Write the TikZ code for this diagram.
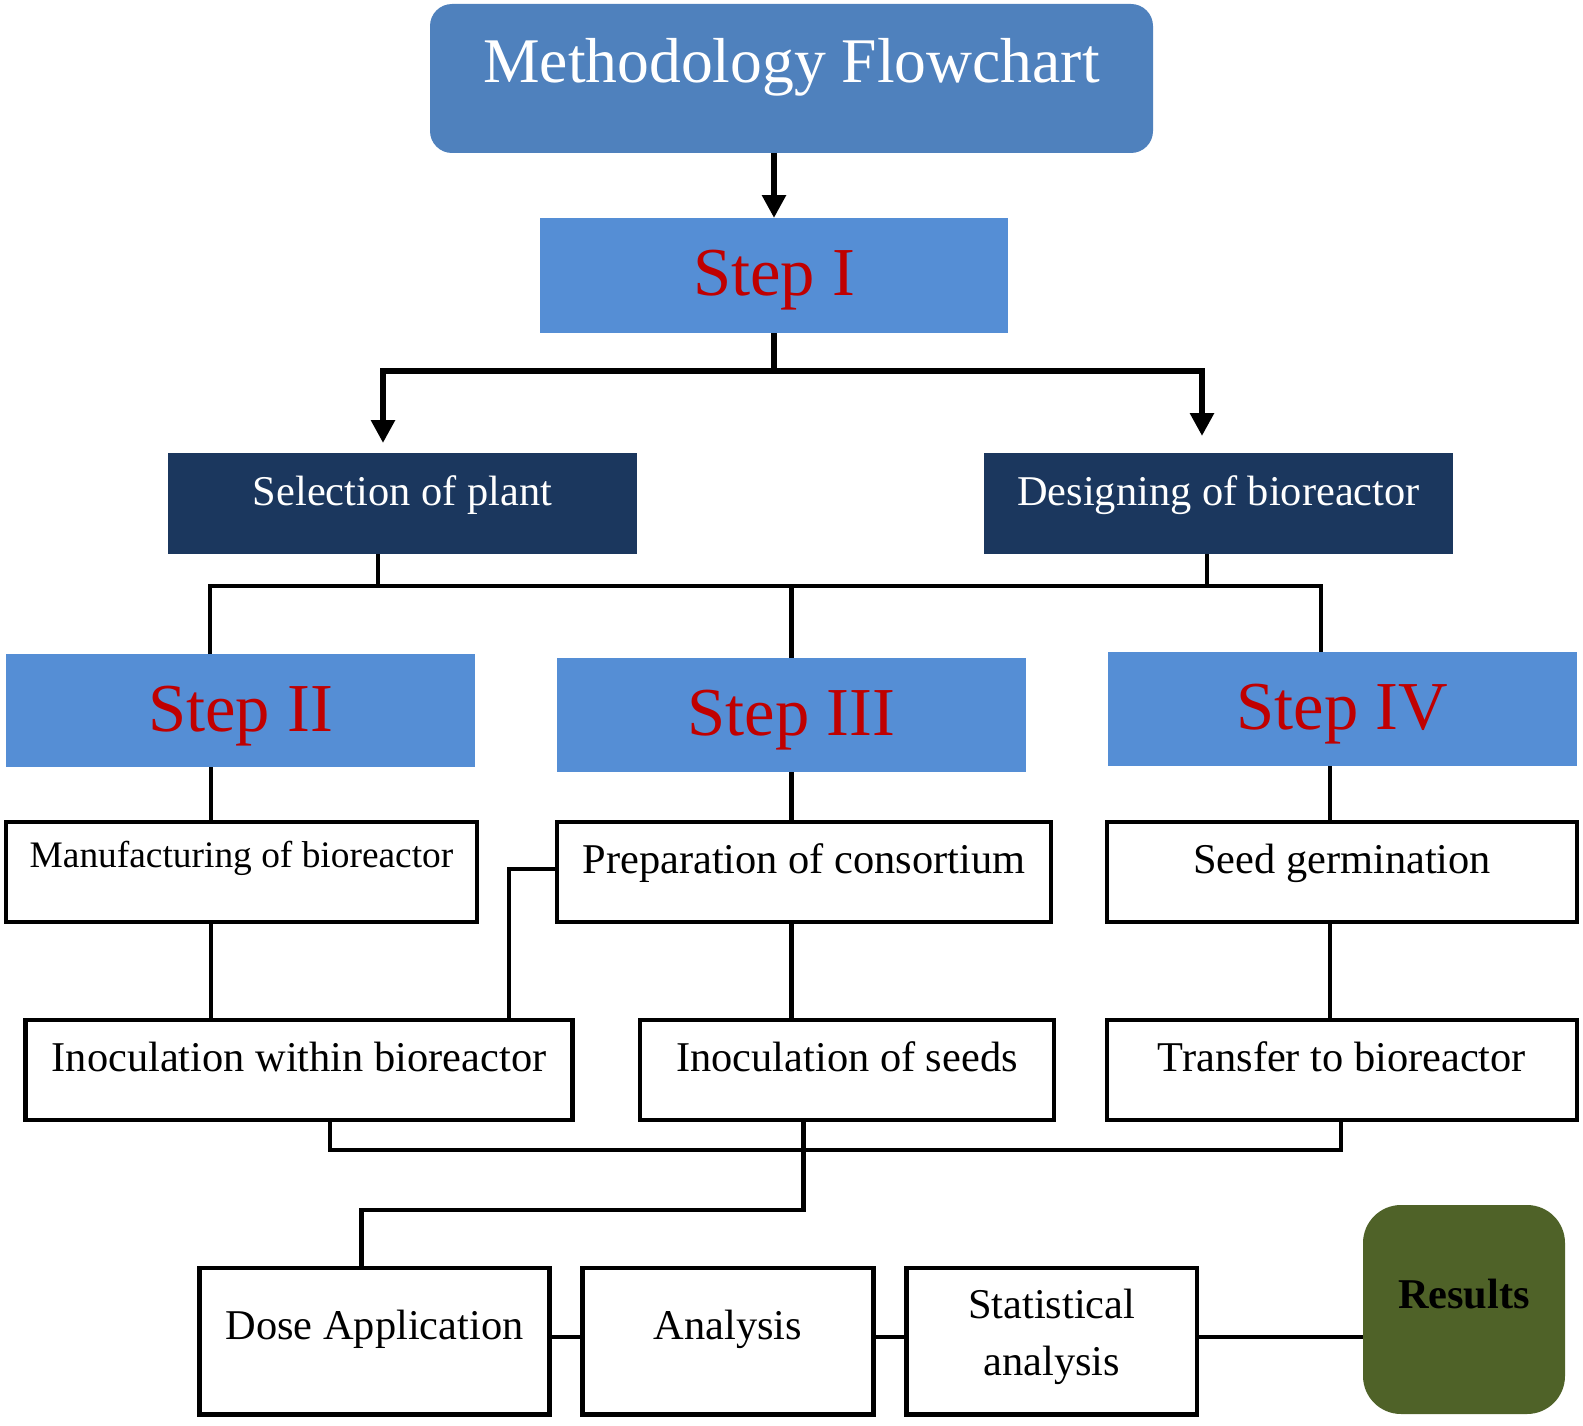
\documentclass[tikz,border=0pt]{standalone}
\usepackage{fontspec}
\setmainfont{Liberation Serif}
\usetikzlibrary{arrows.meta}
\definecolor{titleblue}{RGB}{79,129,189}
\definecolor{stepblue}{RGB}{85,142,213}
\definecolor{steptext}{RGB}{192,0,0}
\definecolor{navy}{RGB}{27,55,94}
\definecolor{olive}{RGB}{79,98,40}
\begin{document}
\begin{tikzpicture}[x=1pt,y=-1pt,
  basebox/.style={anchor=north, inner xsep=0pt, inner ysep=0pt, outer sep=0pt, align=center},
  titlebox/.style={basebox, fill=titleblue, rounded corners=22pt, text=white, font=\fontsize{63.6}{76}\selectfont},
  stepbox/.style={basebox, fill=stepblue, text=steptext, font=\fontsize{68.6}{80}\selectfont},
  navybox/.style={basebox, fill=navy, text=white, font=\fontsize{42.4}{58}\selectfont},
  whitebox/.style={basebox, draw=black, line width=4.5pt, fill=white, font=\fontsize{42.4}{56.7}\selectfont},
  resbox/.style={basebox, fill=olive, rounded corners=38pt, font=\bfseries\fontsize{42.4}{58}\selectfont},
  conn/.style={draw=black, line width=4.5pt},
  arrowline/.style={draw=black, line width=6.5pt, -{Triangle[width=23pt,length=23pt]}},
  busline/.style={draw=black, line width=6.5pt}
]
\useasboundingbox (0,0) rectangle (1583,1426);

% boxes
\node[titlebox, minimum width=723pt, text height=79pt, text depth=70pt] (title) at (791.5,4) {Methodology Flowchart};
\node[stepbox, minimum width=468pt, text height=77pt, text depth=38pt] (step1) at (774,218) {Step I};
\node[navybox, minimum width=469pt, text height=52pt, text depth=49pt] (sel) at (402.5,453) {Selection of plant};
\node[navybox, minimum width=469pt, text height=52pt, text depth=49pt] (des) at (1218.5,453) {Designing of bioreactor};
\node[stepbox, minimum width=469pt, text height=77.6pt, text depth=35.4pt] (step2) at (240.5,654) {Step II};
\node[stepbox, minimum width=469pt, text height=77pt, text depth=37pt] (step3) at (791.5,658) {Step III};
\node[stepbox, minimum width=469pt, text height=77.6pt, text depth=36.4pt] (step4) at (1342.5,652) {Step IV};
\node[whitebox, minimum width=471pt, text height=45.6pt, text depth=54.4pt, font=\fontsize{37.4}{50}\selectfont] (manu) at (241.5,822) {Manufacturing of bioreactor};
\node[whitebox, minimum width=494pt, text height=51pt, text depth=49pt] (prep) at (804,822) {Preparation of consortium};
\node[whitebox, minimum width=470pt, text height=51pt, text depth=49pt] (seed) at (1342,822) {Seed germination};
\node[whitebox, minimum width=547pt, text height=51.8pt, text depth=48.2pt] (inw) at (299,1020) {Inoculation within bioreactor};
\node[whitebox, minimum width=414pt, text height=51pt, text depth=49pt] (ins) at (847,1020) {Inoculation of seeds};
\node[whitebox, minimum width=470pt, text height=51pt, text depth=49pt] (tra) at (1342,1020) {Transfer to bioreactor};
\node[whitebox, minimum width=350pt, text height=71.3pt, text depth=75pt] (dose) at (374.6,1268) {Dose Application};
\node[whitebox, minimum width=291pt, text height=71.3pt, text depth=75pt] (ana) at (728,1268) {Analysis};
\node[whitebox, minimum width=290.5pt, text height=50.3pt, text depth=96pt] (stat) at (1051.75,1268) {\begin{tabular}[t]{@{}c@{}}Statistical\\analysis\end{tabular}};
\node[resbox, minimum width=202pt, text height=103.3pt, text depth=105.7pt] (res) at (1464,1205) {Results};

% coordinates for connector bends
\coordinate (b1) at (774,371);
\coordinate (la) at (383,443);
\coordinate (ra) at (1202,436);
\coordinate (j2) at (210,586);
\coordinate (j4) at (1321,586);
\coordinate (js) at (378,586);
\coordinate (jd) at (1207,586);
\coordinate (k2) at (211,0);
\coordinate (k4) at (1330,0);
\coordinate (m1) at (509,869);
\coordinate (n1) at (330,1150);
\coordinate (n2) at (803.6,1150);
\coordinate (n3) at (1341,1150);
\coordinate (n4) at (803.6,1210);
\coordinate (n5) at (361.6,1210);
\coordinate (r3) at (0,1337);

% connectors
\draw[arrowline] (title.south -| step1.north) -- (step1.north);
\draw[busline] (step1.south) -- (b1);
\draw[arrowline] (b1) -| (la);
\draw[arrowline] (b1) -| (ra);

\draw[conn] (step2.north -| j2) -- (j2) -- (j4) -- (step4.north -| j4);
\draw[conn] (sel.south -| js) -- (js);
\draw[conn] (des.south -| jd) -- (jd);
\draw[conn] (step3.north) -- (step3.north |- j2);

\draw[conn] (step2.south -| k2) -- (manu.north -| k2);
\draw[conn] (step3.south) -- (prep.north -| step3.south);
\draw[conn] (step4.south -| k4) -- (seed.north -| k4);

\draw[conn] (manu.south -| k2) -- (inw.north -| k2);
\draw[conn] (prep.south -| step3.south) -- (ins.north -| step3.south);
\draw[conn] (seed.south -| k4) -- (tra.north -| k4);

\draw[conn] (prep.west |- m1) -- (m1) -- (inw.north -| m1);

\draw[conn] (inw.south -| n1) -- (n1) -- (n3) -- (tra.south -| n3);
\draw[conn] (ins.south -| n2) -- (n2) -- (n4) -- (n5) -- (dose.north -| n5);

\draw[conn] (dose.east |- r3) -- (ana.west |- r3);
\draw[conn] (ana.east |- r3) -- (stat.west |- r3);
\draw[conn] (stat.east |- r3) -- (res.west |- r3);
\end{tikzpicture}
\end{document}
